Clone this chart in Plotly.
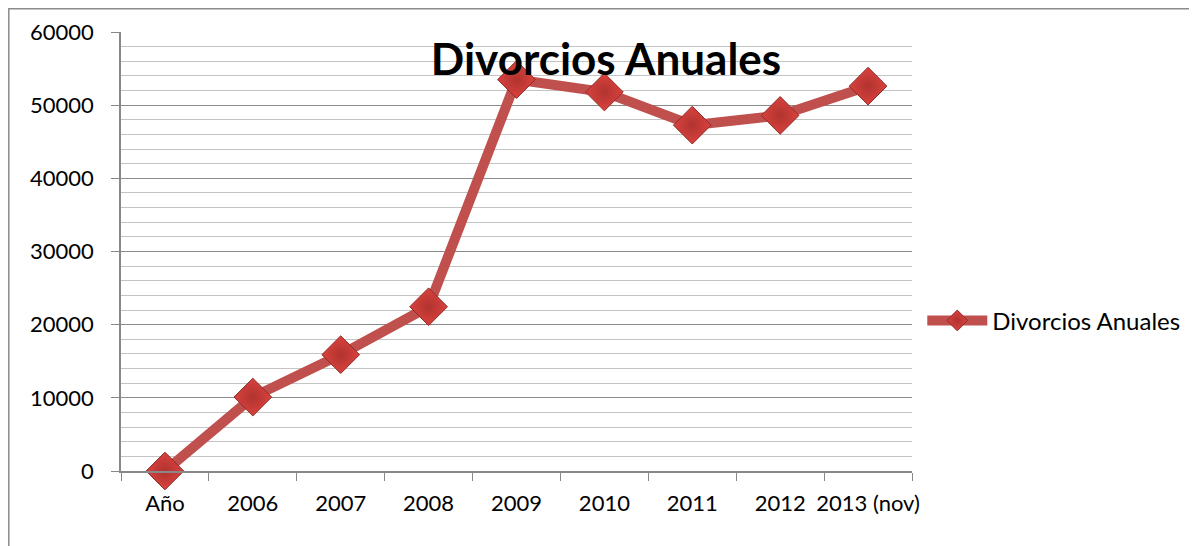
import plotly.graph_objects as go

categories = ["Año", "2006", "2007", "2008", "2009", "2010", "2011", "2012", "2013 (nov)"]
divorcios = [0, 10100, 15900, 22450, 53500, 51800, 47270, 48600, 52600]
series_name = "Divorcios Anuales"
title_text = "Divorcios Anuales"
y_ticks = [0, 10000, 20000, 30000, 40000, 50000, 60000]
y_tick_labels = ["0", "10000", "20000", "30000", "40000", "50000", "60000"]

FONT = "Lato"
W, H = 1197, 546
L, T, R, B = 113, 24, 293, 83
PW, PH = W - L - R, H - T - B

fig = go.Figure()
fig.add_trace(go.Scatter(
    x=categories, y=divorcios, name=series_name,
    mode="lines+markers",
    line=dict(color="#C0504D", width=10),
    marker=dict(symbol="diamond", size=29, color="#DA423E",
                line=dict(color="#8E2B29", width=1),
                gradient=dict(type="radial", color="#B0332F")),
    cliponaxis=False,
))

fig.update_layout(
    width=W, height=H,
    margin=dict(l=L, r=R, t=T, b=B, autoexpand=False),
    paper_bgcolor="white", plot_bgcolor="white",
    font=dict(family=FONT, size=23, color="black"),
    title=dict(text="<b>" + title_text + "</b>", x=598 / W, xanchor="center",
               y=1 - 52 / H, yanchor="middle", yref="container",
               font=dict(family=FONT, size=44, color="black")),
    showlegend=True,
    legend=dict(x=1.013, xanchor="left", y=0.342, yanchor="middle",
                itemwidth=60, font=dict(family=FONT, size=24),
                bgcolor="rgba(0,0,0,0)", tracegroupgap=0),
    xaxis=dict(type="category", range=[-0.5, 8.5], automargin=False,
               showline=True, linecolor="#888888", linewidth=1.5,
               ticks="outside", tickson="boundaries", ticklen=8, tickcolor="#888888",
               tickangle=0, tickfont=dict(size=22), ticklabelstandoff=12,
               showgrid=False, zeroline=False, fixedrange=True),
    yaxis=dict(range=[0, 60000], tickvals=y_ticks, ticktext=y_tick_labels, automargin=False,
               showline=True, linecolor="#888888", linewidth=1.5,
               ticks="outside", ticklen=8, tickcolor="#888888",
               showgrid=True, gridcolor="#8c8c8c", gridwidth=1.2,
               zeroline=False, tickfont=dict(size=22),
               minor=dict(dtick=2000, showgrid=True, gridcolor="#c4c4c4", gridwidth=1.2),
               ticklabelstandoff=13),
    shapes=[dict(type="rect", xref="paper", yref="paper",
                 x0=(0.8 - L) / PW, x1=1.6, y0=-0.5, y1=(H - B - 0.8) / PH,
                 line=dict(color="#8c8c8c", width=1.5), fillcolor="rgba(0,0,0,0)",
                 layer="below")],
)

fig.write_html("out.html")
